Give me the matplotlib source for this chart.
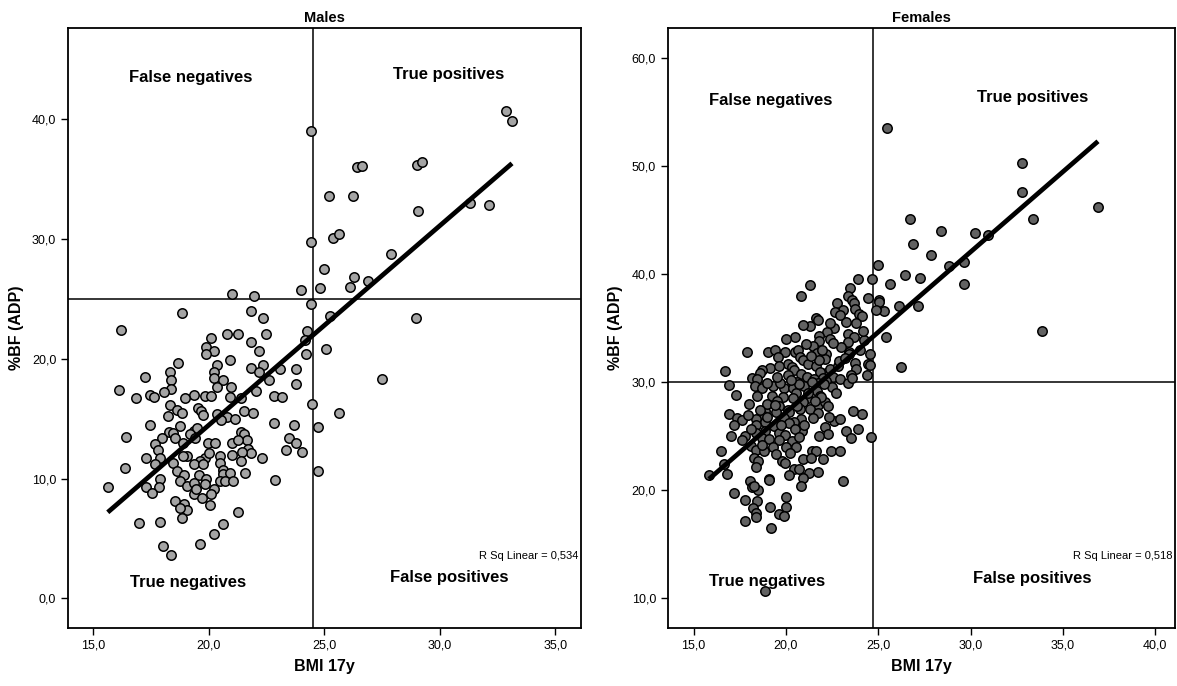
import matplotlib
matplotlib.use('Agg')
import matplotlib.pyplot as plt
import numpy as np

plt.rcParams['font.family'] = ['Liberation Sans', 'DejaVu Sans']

# Males: BMI at 17y and %BF (ADP)
male_pts = [
    (32.85, 40.7), (33.15, 39.8), (24.41, 39.0), (26.42, 36.0), (26.62, 36.1),
    (29.01, 36.2), (29.22, 36.4), (25.22, 33.6), (26.24, 33.6), (31.31, 33.0),
    (32.15, 32.8), (29.06, 32.3), (24.41, 29.7), (25.40, 30.1), (25.66, 30.4),
    (27.87, 28.7), (25.01, 27.5), (26.31, 26.8), (26.90, 26.5), (24.80, 25.9),
    (26.13, 26.0), (24.00, 25.7), (21.00, 25.4), (21.96, 25.2), (24.41, 24.6),
    (28.96, 23.4), (25.25, 23.6), (21.83, 24.0), (18.84, 23.8), (22.37, 23.4),
    (16.19, 22.4), (24.26, 22.3), (20.79, 22.1), (21.25, 22.1), (22.47, 22.1),
    (24.18, 21.6), (20.09, 21.7), (21.83, 21.4), (19.88, 21.0), (20.22, 20.6),
    (19.88, 20.4), (22.16, 20.6), (24.21, 20.4), (25.06, 20.8), (18.69, 19.6),
    (20.37, 19.5), (22.36, 19.5), (20.92, 19.9), (21.83, 19.2), (23.09, 19.1),
    (23.80, 19.1), (18.32, 18.9), (20.24, 18.9), (22.16, 18.9), (17.26, 18.5),
    (20.21, 18.4), (18.38, 18.2), (20.61, 18.2), (27.51, 18.3), (23.78, 17.9),
    (22.61, 18.2), (20.37, 17.6), (20.96, 17.6), (16.10, 17.4), (18.37, 17.5),
    (18.08, 17.2), (22.03, 17.3), (17.46, 17.0), (19.38, 17.0), (17.64, 16.8),
    (16.86, 16.7), (18.97, 16.7), (19.83, 16.9), (20.09, 16.9), (20.92, 16.8),
    (22.84, 16.9), (23.18, 16.8), (24.46, 16.2), (21.40, 16.7), (18.32, 16.1),
    (19.54, 15.9), (19.67, 15.6), (18.61, 15.7), (18.84, 15.5), (18.22, 15.2),
    (19.75, 15.3), (20.34, 15.4), (20.81, 15.1), (21.14, 15.0), (21.51, 15.6),
    (21.90, 15.5), (25.66, 15.5), (20.55, 14.9), (17.47, 14.5), (22.81, 14.6),
    (23.69, 14.5), (24.73, 14.3), (18.74, 14.4), (19.36, 14.0), (19.49, 14.2),
    (18.30, 13.9), (18.47, 13.8), (19.20, 13.7), (21.41, 13.9), (21.54, 13.7),
    (16.43, 13.5), (17.99, 13.4), (18.53, 13.4), (19.41, 13.4), (23.49, 13.4),
    (21.64, 13.2), (21.02, 13.0), (18.89, 13.0), (19.96, 13.0), (20.26, 13.0),
    (21.25, 13.2), (23.76, 13.0), (17.69, 12.9), (17.80, 12.4), (21.72, 12.5),
    (23.36, 12.4), (24.03, 12.2), (21.83, 12.1), (21.46, 12.2), (19.08, 11.9),
    (18.89, 11.9), (17.28, 11.7), (17.91, 11.7), (19.83, 11.7), (20.03, 12.1),
    (20.50, 11.9), (20.99, 12.0), (22.31, 11.7), (19.64, 11.5), (18.45, 11.3),
    (17.69, 11.2), (19.36, 11.2), (19.75, 11.2), (20.48, 11.3), (21.41, 11.5),
    (16.39, 10.9), (20.61, 10.7), (18.64, 10.6), (20.64, 10.4), (20.93, 10.5),
    (21.59, 10.5), (24.72, 10.6), (17.88, 10.0), (18.94, 10.3), (19.59, 10.3),
    (18.74, 9.8), (19.90, 10.0), (20.50, 9.8), (20.70, 9.8), (21.04, 9.8),
    (22.89, 9.9), (15.62, 9.3), (17.28, 9.3), (17.86, 9.3), (19.05, 9.4),
    (19.35, 9.6), (19.83, 9.5), (20.24, 9.1), (17.53, 8.8), (19.35, 8.7),
    (19.46, 9.1), (19.70, 8.4), (20.09, 8.7), (18.53, 8.1), (18.94, 7.9),
    (19.05, 7.4), (20.04, 7.8), (21.25, 7.2), (18.84, 6.7), (16.99, 6.3),
    (17.88, 6.4), (20.60, 6.2), (20.24, 5.4), (18.04, 4.4), (19.64, 4.5),
    (18.37, 3.6), (18.74, 7.5),
]

# Females: BMI at 17y and %BF (ADP)
female_pts = [
    (25.50, 53.5), (32.80, 50.3), (32.76, 47.6), (36.90, 46.2), (26.74, 45.1),
    (33.37, 45.1), (28.38, 44.0), (30.25, 43.8), (30.96, 43.6), (26.88, 42.8),
    (27.85, 41.8), (28.85, 40.7), (29.62, 41.1), (24.96, 40.8), (26.44, 39.9),
    (27.27, 39.6), (23.90, 39.5), (24.67, 39.5), (25.64, 39.1), (21.33, 39.0),
    (29.62, 39.1), (20.82, 38.0), (23.45, 38.7), (23.35, 38.0), (24.43, 37.8),
    (25.02, 37.6), (25.06, 37.4), (23.58, 37.6), (22.77, 37.3), (23.09, 36.7),
    (23.66, 37.3), (23.74, 36.8), (25.30, 36.6), (26.13, 37.0), (27.14, 37.0),
    (24.89, 36.7), (22.68, 36.5), (23.98, 36.3), (24.13, 36.1), (21.61, 35.9),
    (21.71, 35.7), (23.27, 35.6), (23.78, 35.5), (21.28, 35.2), (22.62, 35.0),
    (22.20, 34.6), (21.81, 34.3), (20.47, 34.2), (23.37, 34.4), (23.70, 34.2),
    (20.01, 34.0), (22.36, 34.0), (25.40, 34.2), (24.25, 33.9), (21.79, 33.8),
    (23.37, 33.7), (21.49, 33.3), (33.86, 34.7), (17.88, 32.8), (19.03, 32.8),
    (19.42, 33.0), (19.95, 32.8), (20.47, 32.8), (20.64, 33.0), (19.56, 32.3),
    (20.78, 32.3), (21.67, 32.7), (22.18, 32.6), (22.10, 32.1), (23.43, 32.8),
    (23.41, 32.6), (24.57, 32.6), (20.11, 31.7), (20.33, 31.4), (20.95, 32.0),
    (21.20, 31.7), (21.65, 31.5), (21.77, 32.0), (19.14, 31.3), (23.74, 31.8),
    (23.80, 31.2), (24.43, 31.7), (24.57, 31.6), (26.25, 31.4), (18.69, 31.1),
    (16.72, 31.0), (20.45, 31.1), (18.61, 30.8), (22.18, 30.8), (21.83, 30.9),
    (20.09, 30.6), (20.82, 30.7), (21.12, 30.5), (22.56, 30.5), (23.50, 30.6),
    (24.37, 30.6), (18.14, 30.4), (18.45, 30.3), (21.51, 30.3), (22.00, 30.4),
    (22.91, 30.3), (21.73, 29.9), (22.16, 30.1), (23.35, 29.9), (20.62, 30.0),
    (16.91, 29.7), (18.30, 29.6), (18.73, 29.4), (19.30, 29.6), (19.89, 29.4),
    (20.39, 29.4), (21.00, 29.6), (22.52, 29.5), (21.67, 29.2), (20.56, 29.0),
    (21.83, 28.7), (19.22, 28.7), (19.83, 28.6), (17.27, 28.8), (20.39, 28.5),
    (21.20, 28.5), (21.73, 27.9), (22.12, 28.1), (18.02, 28.0), (19.52, 28.2),
    (20.92, 28.1), (19.62, 27.8), (21.31, 27.5), (20.78, 27.5), (20.11, 27.4),
    (18.85, 27.3), (19.48, 27.2), (20.19, 27.2), (23.64, 27.3), (24.13, 27.0),
    (16.89, 27.0), (21.73, 27.1), (18.73, 26.9), (17.33, 26.7), (19.89, 26.7),
    (17.60, 26.5), (18.37, 26.6), (20.80, 26.6), (21.49, 26.7), (22.60, 26.4),
    (22.93, 26.6), (18.89, 26.3), (20.43, 26.3), (17.19, 26.0), (20.15, 26.2),
    (18.39, 26.0), (19.34, 25.9), (22.10, 25.8), (23.25, 25.5), (23.92, 25.6),
    (18.87, 25.5), (20.86, 25.5), (18.37, 25.3), (19.64, 25.3), (22.26, 25.2),
    (17.01, 25.0), (17.76, 25.0), (18.69, 24.8), (19.95, 25.1), (24.59, 24.9),
    (23.54, 24.8), (17.60, 24.6), (19.08, 24.7), (19.62, 24.6), (20.31, 24.5),
    (18.12, 24.1), (19.30, 24.0), (20.03, 24.0), (20.56, 24.0), (18.39, 23.7),
    (16.46, 23.6), (18.81, 23.6), (21.39, 23.6), (21.63, 23.6), (22.42, 23.6),
    (22.93, 23.6), (20.23, 23.4), (18.26, 23.0), (20.90, 22.9), (22.00, 22.9),
    (21.37, 23.0), (18.49, 22.7), (19.79, 22.7), (19.95, 22.5), (16.62, 22.4),
    (18.39, 22.1), (20.43, 21.9), (20.70, 21.9), (21.27, 21.6), (21.75, 21.7),
    (16.81, 21.5), (20.15, 21.4), (15.83, 21.4), (20.90, 21.1), (18.06, 20.8),
    (19.08, 21.0), (23.11, 20.8), (18.14, 20.3), (20.80, 20.4), (18.51, 20.0),
    (17.17, 19.7), (17.80, 19.1), (20.03, 19.3), (18.43, 19.0), (18.22, 18.3),
    (19.16, 18.4), (20.01, 18.4), (18.40, 17.9), (18.37, 17.5), (19.62, 17.8),
    (19.91, 17.6), (17.78, 17.1), (19.18, 16.5), (18.89, 10.6), (19.10, 20.9),
    (18.25, 20.4), (22.40, 31.2), (22.80, 31.5), (21.40, 30.0), (20.70, 29.8),
    (19.70, 29.9), (22.70, 29.0), (21.00, 26.0), (22.30, 27.8), (20.50, 25.6),
    (21.90, 28.6), (19.00, 28.0), (23.00, 33.2), (22.95, 36.2), (21.10, 33.5),
    (18.60, 27.4), (18.95, 26.8), (19.40, 27.9), (19.75, 26.0), (20.60, 27.8),
    (21.20, 29.0), (21.55, 28.2), (22.05, 29.8), (22.85, 31.9), (23.20, 32.2),
    (22.55, 33.6), (21.95, 33.0), (21.35, 32.4), (20.25, 30.2), (19.50, 30.5),
    (18.95, 29.9), (18.45, 28.7), (17.95, 26.9), (18.10, 25.6), (18.70, 24.2),
    (19.45, 23.3), (20.70, 24.9), (21.80, 25.0), (22.35, 26.8), (23.60, 30.4),
    (24.00, 33.0), (24.20, 34.7), (22.40, 35.5), (20.90, 35.3), (19.60, 31.5),
]

# Regression line end points and cut-offs
male_fit_x = [15.63, 33.13]
male_fit_y = [7.18, 36.3]
female_fit_x = [15.83, 36.9]
female_fit_y = [21.0, 52.3]
male_cut = (24.5, 25.0)
female_cut = (24.7, 30.0)

male_xticks = [15, 20, 25, 30, 35]
male_yticks = [0, 10, 20, 30, 40]
female_xticks = [15, 20, 25, 30, 35, 40]
female_yticks = [10, 20, 30, 40, 50, 60]

fig = plt.figure(figsize=(11.77, 6.86), dpi=100)
ax1 = fig.add_axes([0.0578, 0.0845, 0.4355, 0.8747])
ax2 = fig.add_axes([0.5675, 0.0845, 0.4308, 0.8747])


def comma(v):
    return ('%.1f' % v).replace('.', ',')


def draw(ax, pts, fit_x, fit_y, cut, xt, yt, xlim, ylim, color, title, r2,
         labels):
    pts = np.array(pts)
    ax.axvline(cut[0], color='black', lw=1.1, zorder=1)
    ax.axhline(cut[1], color='black', lw=1.1, zorder=1)
    ax.scatter(pts[:, 0], pts[:, 1], s=46, facecolor=color,
               edgecolor='black', linewidths=1.1, zorder=2)
    ax.plot(fit_x, fit_y, color='black', lw=3.4, solid_capstyle='butt',
            zorder=3)
    ax.set_xlim(xlim)
    ax.set_ylim(ylim)
    ax.set_xticks(xt)
    ax.set_yticks(yt)
    ax.set_xticklabels([comma(v) for v in xt], fontsize=9)
    ax.set_yticklabels([comma(v) for v in yt], fontsize=9)
    ax.tick_params(direction='out', length=5, width=1, top=False, right=False)
    for sp in ax.spines.values():
        sp.set_linewidth(1.3)
    ax.set_xlabel('BMI 17y', fontsize=11.5, fontweight='bold', labelpad=5)
    ax.set_ylabel('%BF (ADP)', fontsize=11.5, fontweight='bold', labelpad=6)
    ax.set_title(title, fontsize=10.5, fontweight='bold', pad=4)
    for (tx, ty, s) in labels:
        ax.text(tx, ty, s, fontsize=12, fontweight='bold', ha='center',
                va='center')
    ax.text(0.995, 0.12, 'R Sq Linear = ' + r2, transform=ax.transAxes,
            fontsize=8, ha='right', va='center')


draw(ax1, male_pts, male_fit_x, male_fit_y, male_cut, male_xticks, male_yticks,
     (13.91, 36.1), (-2.48, 47.6), '#a4a4a4', 'Males', '0,534',
     [(19.2, 43.5, 'False negatives'), (30.4, 43.7, 'True positives'),
      (19.1, 1.3, 'True negatives'), (30.4, 1.7, 'False positives')])
draw(ax2, female_pts, female_fit_x, female_fit_y, female_cut, female_xticks,
     female_yticks, (13.61, 41.07), (7.2, 62.8), '#626262', 'Females', '0,518',
     [(19.2, 56.1, 'False negatives'), (33.35, 56.4, 'True positives'),
      (19.0, 11.5, 'True negatives'), (33.35, 11.8, 'False positives')])

fig.savefig('out.png', dpi=100)
